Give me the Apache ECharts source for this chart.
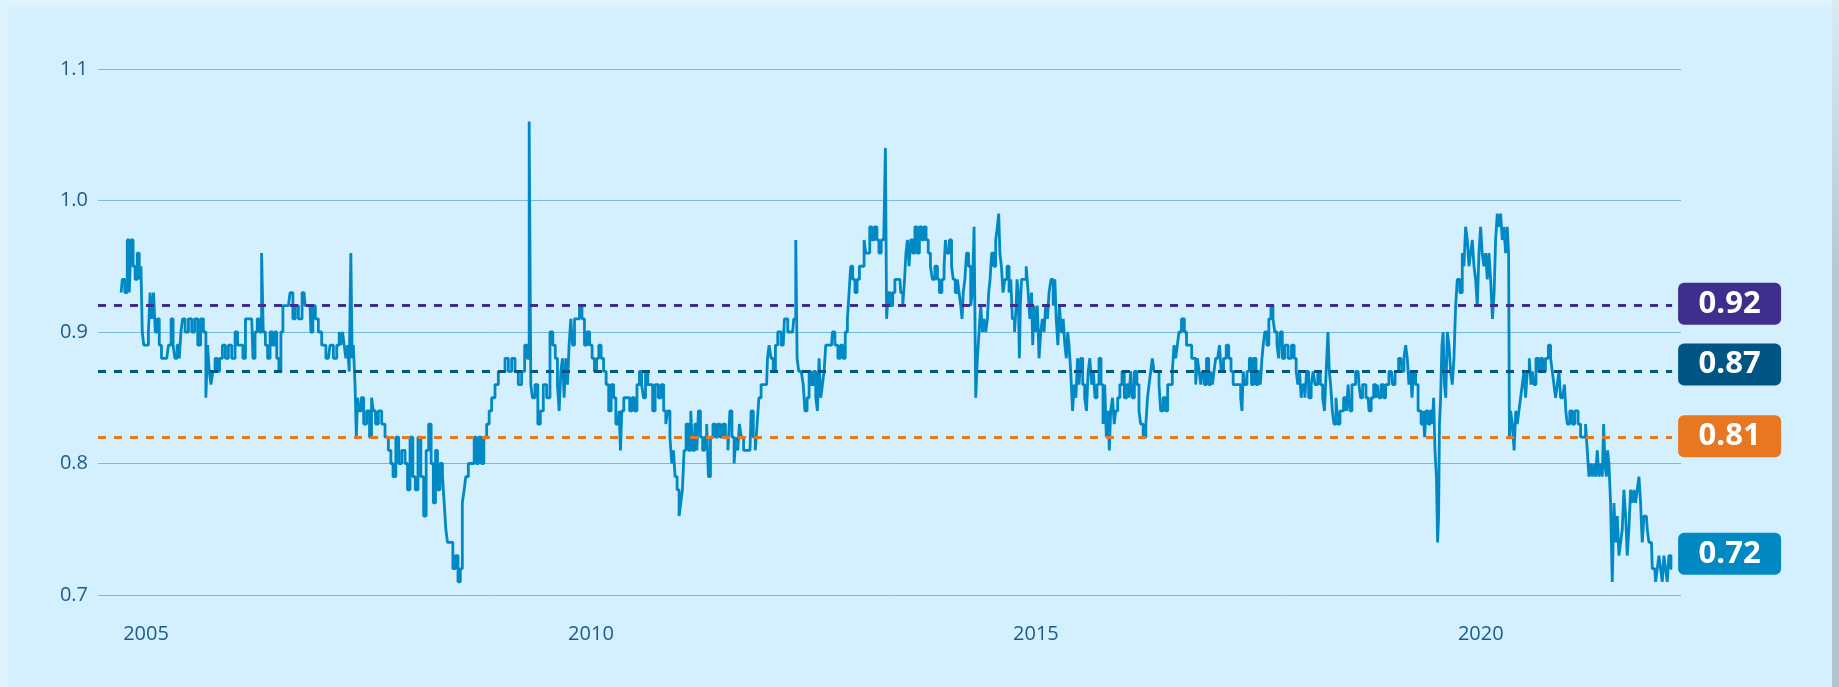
<!DOCTYPE html>
<html>
<head>
<meta charset="utf-8">
<script src="https://cdn.jsdelivr.net/npm/echarts@6/dist/echarts.min.js"></script>
<style>
html,body{margin:0;padding:0;background:#dff3fd;}
#panel{position:absolute;left:8px;top:7px;width:1824px;height:680px;background:#d4effd;}
#edge{position:absolute;left:1832px;top:0;width:7px;height:687px;background:linear-gradient(#d8ebf3,#b3c9d3 40%,#aec4ce);}
#chart{position:absolute;left:0;top:0;width:1839px;height:687px;}
</style>
</head>
<body>
<div id="panel"></div>
<div id="edge"></div>
<div id="chart"></div>
<script>
// ---- data ----
const xTickYears = [2005, 2010, 2015, 2020];
const yTicks = [0.7, 0.8, 0.9, 1.0, 1.1];

const times = [
2004.72,2004.746,2004.776,2004.802,2004.821,2004.843,2004.866,2004.888,2004.914,2004.933,2004.952,2004.963,2004.986,2005.015,2005.038,2005.053,2005.075,2005.094,2005.113,2005.139,2005.158,2005.188,2005.233,2005.27,2005.293,2005.315,2005.334,2005.364,2005.383,2005.401,2005.42,2005.457,2005.495,2005.532,2005.562,2005.6,2005.626,2005.663,2005.682,2005.701,2005.72,2005.738,2005.764,2005.787,2005.813,2005.839,2005.877,2005.907,2005.944,2005.982,2006.019,2006.038,2006.075,2006.102,2006.132,2006.188,2006.214,2006.236,2006.263,2006.289,2006.308,2006.326,2006.356,2006.375,2006.413,2006.431,2006.458,2006.48,2006.506,2006.525,2006.551,2006.6,2006.637,2006.663,2006.693,2006.731,2006.776,2006.798,2006.843,2006.862,2006.888,2006.918,2006.955,2006.993,2007.049,2007.087,2007.124,2007.162,
2007.18,2007.199,2007.217,2007.236,2007.255,2007.274,2007.292,2007.311,2007.322,2007.337,2007.36,2007.367,2007.386,2007.405,2007.431,2007.461,2007.498,2007.525,2007.543,2007.566,2007.592,2007.629,2007.667,2007.704,2007.742,2007.761,2007.79,2007.824,2007.854,2007.892,2007.929,2007.948,2007.985,2008.011,2008.041,2008.071,2008.105,2008.135,2008.161,2008.191,2008.217,2008.24,2008.266,2008.285,2008.322,2008.341,2008.36,2008.378,2008.397,2008.435,2008.461,2008.491,2008.521,2008.543,2008.566,2008.584,2008.603,2008.641,2008.678,2008.697,2008.723,2008.753,2008.783,2008.809,2008.847,2008.865,2008.903,2008.94,2008.978,2009.015,2009.053,2009.09,2009.128,2009.165,2009.202,2009.24,2009.27,2009.296,2009.315,2009.333,2009.352,2009.39,2009.416,2009.446,2009.483,2009.521,2009.558,2009.584,2009.614,2009.633,2009.652,2009.671,2009.689,2009.708,
2009.727,2009.745,2009.764,2009.783,2009.802,2009.828,2009.858,2009.884,2009.914,2009.94,2009.97,2010.0,2010.026,2010.052,2010.075,2010.101,2010.127,2010.157,2010.184,2010.214,2010.24,2010.27,2010.289,2010.307,2010.326,2010.337,2010.356,2010.382,2010.42,2010.45,2010.476,2010.502,2010.532,2010.558,2010.581,2010.6,2010.626,2010.652,2010.682,2010.704,2010.738,2010.775,2010.802,2010.832,2010.85,2010.876,2010.899,2010.918,2010.936,2010.955,2010.981,2011.0,2011.019,2011.037,2011.056,2011.082,2011.112,2011.131,2011.154,2011.18,2011.199,2011.217,2011.244,2011.266,2011.289,2011.311,2011.33,2011.356,2011.386,2011.412,2011.438,2011.468,2011.498,2011.524,2011.554,2011.569,2011.599,2011.618,2011.64,2011.659,2011.678,2011.7,2011.73,2011.787,2011.813,2011.835,2011.858,2011.876,2011.899,2011.925,2011.974,2011.993,2012.011,2012.037,2012.06,2012.086,2012.112,2012.161,2012.187,2012.236,
2012.266,2012.292,2012.311,2012.322,2012.348,2012.378,2012.393,2012.416,2012.442,2012.461,2012.487,2012.517,2012.536,2012.554,2012.573,2012.592,2012.611,2012.629,2012.648,2012.704,2012.723,2012.76,2012.79,2012.817,2012.843,2012.873,2012.891,2012.91,2012.929,2012.955,2012.978,2013.004,2013.03,2013.06,2013.079,2013.097,2013.124,2013.142,2013.172,2013.202,2013.225,2013.247,2013.277,2013.303,2013.315,2013.33,2013.352,2013.378,2013.404,2013.427,2013.472,2013.491,2013.517,2013.532,2013.547,2013.566,2013.584,2013.603,2013.629,2013.652,2013.678,2013.704,2013.734,2013.753,2013.779,2013.802,2013.828,2013.846,2013.884,2013.903,2013.929,2013.959,2013.978,2013.989,2014.015,2014.041,2014.064,2014.079,2014.109,2014.127,2014.146,2014.165,2014.176,2014.191,2014.213,2014.229,2014.258,2014.277,2014.296,2014.315,2014.333,2014.352,2014.371,2014.39,2014.408,2014.427,2014.446,2014.464,2014.476,2014.494,2014.513,2014.539,2014.558,2014.577,2014.588,2014.603,2014.622,2014.64,2014.663,2014.689,2014.708,2014.727,2014.745,2014.775,
2014.783,2014.794,2014.809,2014.82,2014.831,2014.846,2014.876,2014.906,2014.921,2014.944,2014.959,2014.97,2014.989,2015.007,2015.026,2015.045,2015.064,2015.082,2015.101,2015.12,2015.139,2015.157,2015.183,2015.206,2015.221,2015.236,2015.258,2015.273,2015.296,2015.318,2015.333,2015.352,2015.363,2015.382,2015.401,2015.423,2015.438,2015.461,2015.476,2015.494,2015.513,2015.539,2015.558,2015.58,2015.595,2015.618,2015.637,2015.655,2015.674,2015.7,2015.719,2015.745,2015.764,2015.783,2015.801,2015.82,2015.831,2015.85,2015.873,2015.888,2015.906,2015.933,2015.955,2015.981,2016.007,2016.037,2016.056,2016.075,2016.094,2016.12,2016.15,2016.168,2016.187,2016.225,2016.247,2016.262,2016.281,2016.3,2016.318,2016.337,2016.375,2016.393,2016.412,2016.449,2016.468,2016.494,2016.524,2016.543,2016.562,2016.58,2016.599,2016.618,2016.655,2016.682,2016.704,2016.742,2016.76,2016.787,2016.805,2016.824,2016.846,2016.861,2016.88,2016.906,2016.929,2016.955,2016.974,2016.993,2017.011,2017.03,2017.056,2017.071,2017.094,2017.124,2017.154,2017.18,2017.206,2017.228,2017.255,2017.292,
2017.311,2017.322,2017.337,2017.359,2017.386,2017.412,2017.434,2017.461,2017.487,2017.509,2017.535,2017.547,2017.562,2017.584,2017.607,2017.629,2017.655,2017.674,2017.696,2017.723,2017.734,2017.76,2017.779,2017.816,2017.854,2017.891,2017.914,2017.936,2017.951,2017.974,2017.989,2018.011,2018.034,2018.052,2018.079,2018.109,2018.123,2018.153,2018.183,2018.21,2018.236,2018.251,2018.273,2018.292,2018.303,2018.322,2018.341,2018.359,2018.386,2018.401,2018.434,2018.483,2018.498,2018.52,2018.539,2018.565,2018.622,2018.64,2018.659,2018.685,2018.734,2018.753,2018.783,2018.809,2018.828,2018.846,2018.865,2018.895,2018.921,2018.94,2018.996,2019.022,2019.052,2019.101,2019.127,2019.146,2019.165,2019.183,2019.202,2019.221,2019.232,2019.258,2019.277,2019.314,2019.344,2019.363,2019.374,2019.397,2019.419,2019.446,2019.464,2019.476,2019.494,2019.509,2019.52,2019.532,2019.539,2019.558,2019.569,2019.584,2019.599,2019.614,2019.633,2019.652,2019.67,2019.689,2019.708,2019.727,2019.745,
2019.783,2019.801,2019.82,2019.839,2019.858,2019.876,2019.895,2019.914,2019.933,2019.951,2019.97,2019.989,2020.007,2020.026,2020.045,2020.064,2020.082,2020.101,2020.12,2020.142,2020.157,2020.176,2020.195,2020.213,2020.232,2020.251,2020.27,2020.288,2020.307,2020.318,2020.326,2020.345,2020.363,2020.386,2020.401,2020.419,2020.438,2020.457,2020.476,2020.494,2020.513,2020.532,2020.558,2020.569,2020.588,2020.607,2020.633,2020.663,2020.682,2020.708,2020.745,2020.775,2020.794,2020.813,2020.831,2020.85,2020.869,2020.888,2020.906,2020.933,2020.948,2020.963,2020.981,2021.019,2021.037,2021.075,2021.112,2021.131,2021.168,2021.187,2021.206,2021.225,2021.243,2021.262,2021.281,2021.3,2021.318,2021.337,2021.356,2021.375,2021.386,2021.404,2021.419,2021.431,2021.449,2021.468,2021.487,2021.506,2021.524,2021.543,2021.562,2021.581,2021.599,2021.618,2021.637,2021.655,2021.674,2021.693,2021.712,2021.73,2021.749,2021.768,2021.787,2021.805,2021.824,2021.843,2021.861,2021.88,2021.899,2021.918,2021.936,2021.955,2021.974,2021.993,2022.011,2022.03,2022.049,2022.067,2022.086,2022.105,2022.124,2022.15
];

const values = [
0.93,0.94,0.93,0.97,0.93,0.97,0.95,0.94,0.96,0.94,0.95,0.90,0.89,0.89,0.90,0.93,0.91,0.93,0.90,0.91,0.89,0.88,0.88,0.89,0.91,0.89,0.88,0.89,0.88,0.90,0.91,0.90,0.91,0.90,0.91,0.89,0.91,0.90,0.85,0.89,0.87,0.86,0.87,0.88,0.87,0.88,0.89,0.88,0.89,0.88,0.90,0.89,0.89,0.88,0.91,0.91,0.88,0.90,0.91,0.90,0.96,0.90,0.89,0.88,0.90,0.89,0.90,0.88,0.87,0.90,0.92,0.92,0.93,0.91,0.92,0.91,0.93,0.92,0.92,0.90,0.92,0.91,0.90,0.89,0.88,0.89,0.88,0.89,
0.90,0.89,0.90,0.89,0.88,0.89,0.87,0.96,0.88,0.89,0.86,0.82,0.85,0.84,0.85,0.83,0.84,0.82,0.85,0.84,0.83,0.84,0.83,0.82,0.81,0.80,0.79,0.82,0.80,0.81,0.80,0.78,0.82,0.79,0.78,0.82,0.79,0.76,0.81,0.83,0.80,0.77,0.81,0.78,0.80,0.79,0.77,0.75,0.74,0.74,0.72,0.73,0.71,0.72,0.77,0.78,0.79,0.80,0.80,0.82,0.80,0.82,0.80,0.82,0.83,0.84,0.85,0.86,0.87,0.87,0.88,0.87,0.88,0.87,0.86,0.87,0.89,0.88,1.06,0.86,0.85,0.86,0.83,0.84,0.86,0.85,0.90,0.89,0.88,0.86,0.84,0.87,0.88,0.85,
0.88,0.86,0.89,0.91,0.89,0.91,0.91,0.92,0.91,0.89,0.90,0.89,0.88,0.87,0.88,0.89,0.88,0.87,0.86,0.84,0.86,0.85,0.83,0.83,0.84,0.81,0.84,0.85,0.85,0.84,0.85,0.84,0.86,0.87,0.86,0.85,0.87,0.86,0.86,0.84,0.86,0.85,0.86,0.84,0.83,0.84,0.82,0.80,0.81,0.79,0.78,0.76,0.77,0.78,0.81,0.83,0.81,0.84,0.81,0.83,0.81,0.84,0.82,0.81,0.82,0.83,0.79,0.82,0.83,0.82,0.83,0.82,0.83,0.82,0.81,0.84,0.82,0.80,0.82,0.81,0.83,0.82,0.81,0.81,0.84,0.82,0.81,0.83,0.85,0.86,0.86,0.88,0.89,0.88,0.87,0.89,0.90,0.89,0.91,0.90,
0.90,0.91,0.97,0.88,0.87,0.87,0.86,0.84,0.85,0.87,0.86,0.87,0.85,0.84,0.88,0.85,0.86,0.87,0.89,0.89,0.90,0.89,0.88,0.89,0.88,0.90,0.91,0.93,0.95,0.94,0.93,0.94,0.95,0.95,0.97,0.96,0.96,0.98,0.97,0.98,0.97,0.96,0.97,0.97,1.04,0.91,0.93,0.92,0.93,0.94,0.94,0.93,0.92,0.94,0.96,0.97,0.95,0.97,0.96,0.98,0.96,0.98,0.97,0.98,0.97,0.96,0.95,0.94,0.95,0.94,0.93,0.94,0.95,0.97,0.96,0.97,0.95,0.94,0.93,0.94,0.93,0.92,0.91,0.93,0.94,0.96,0.95,0.92,0.93,0.98,0.85,0.88,0.90,0.92,0.90,0.91,0.90,0.91,0.93,0.94,0.96,0.95,0.97,0.98,0.99,0.96,0.95,0.93,0.94,0.95,0.93,0.94,0.91,0.90,
0.92,0.94,0.93,0.88,0.92,0.94,0.94,0.95,0.93,0.91,0.93,0.89,0.92,0.90,0.92,0.88,0.90,0.91,0.90,0.92,0.91,0.93,0.94,0.92,0.94,0.91,0.89,0.92,0.90,0.91,0.89,0.88,0.90,0.89,0.87,0.84,0.86,0.85,0.88,0.86,0.88,0.86,0.85,0.84,0.87,0.88,0.86,0.87,0.85,0.86,0.88,0.86,0.83,0.86,0.82,0.84,0.81,0.84,0.85,0.83,0.84,0.85,0.86,0.87,0.85,0.86,0.85,0.87,0.85,0.87,0.86,0.84,0.83,0.82,0.83,0.85,0.86,0.87,0.88,0.87,0.87,0.86,0.84,0.85,0.84,0.86,0.86,0.87,0.89,0.88,0.89,0.90,0.91,0.90,0.89,0.89,0.88,0.88,0.86,0.88,0.87,0.86,0.87,0.86,0.88,0.86,0.87,0.86,0.87,0.88,0.88,0.89,0.87,0.88,0.89,0.88,0.87,0.86,0.86,0.86,
0.85,0.84,0.87,0.86,0.87,0.88,0.86,0.88,0.86,0.87,0.86,0.88,0.89,0.90,0.89,0.91,0.92,0.91,0.90,0.89,0.88,0.90,0.88,0.89,0.88,0.89,0.88,0.87,0.86,0.87,0.85,0.86,0.85,0.87,0.85,0.86,0.87,0.86,0.87,0.86,0.85,0.84,0.87,0.90,0.87,0.86,0.84,0.83,0.85,0.83,0.84,0.85,0.84,0.86,0.84,0.86,0.87,0.86,0.85,0.86,0.85,0.84,0.85,0.86,0.85,0.86,0.85,0.86,0.85,0.86,0.87,0.86,0.87,0.88,0.87,0.88,0.89,0.88,0.86,0.87,0.85,0.87,0.86,0.84,0.83,0.84,0.82,0.84,0.83,0.84,0.83,0.85,0.81,0.79,0.74,0.76,0.83,0.85,0.89,0.90,0.86,0.85,0.90,0.89,0.87,0.86,0.88,0.92,0.94,
0.93,0.96,0.95,0.98,0.97,0.95,0.96,0.97,0.95,0.94,0.92,0.96,0.98,0.96,0.95,0.96,0.94,0.96,0.94,0.91,0.93,0.97,0.99,0.98,0.99,0.97,0.98,0.96,0.98,0.96,0.82,0.84,0.83,0.81,0.84,0.83,0.84,0.85,0.86,0.87,0.85,0.87,0.88,0.86,0.87,0.86,0.88,0.87,0.88,0.87,0.88,0.89,0.88,0.87,0.86,0.85,0.86,0.87,0.85,0.85,0.86,0.84,0.83,0.84,0.83,0.84,0.83,0.82,0.82,0.83,0.81,0.79,0.80,0.79,0.80,0.79,0.81,0.79,0.80,0.79,0.83,0.80,0.79,0.81,0.80,0.77,0.71,0.77,0.74,0.76,0.73,0.74,0.75,0.78,0.76,0.73,0.75,0.78,0.77,0.78,0.77,0.78,0.79,0.77,0.74,0.76,0.76,0.75,0.74,0.74,0.72,0.72,0.71,0.72,0.73,0.72,0.71,0.73,0.72,0.71,0.73,0.72
];

const refValues = [0.92, 0.87, 0.82, 0.72];
const refLabels = ['0.92', '0.87', '0.81', '0.72'];
const refColors = ['#3e2f8f', '#005585', '#e87722', '#0089c2'];
const refShowLine = [true, true, true, false];
const refLabelShift = [-2, -7, -1, -15];

const X_MIN = 2004.46, X_MAX = 2022.25;

// ---- chart ----
const seriesData = times.map((t, i) => [t, values[i]]);
const lastT = times[times.length - 1];

const markLineData = refValues.map((v, i) => [
  { coord: [X_MIN, v], lineStyle: { color: refShowLine[i] ? refColors[i] : 'rgba(0,0,0,0)', width: 3, type: [8, 8] } },
  { coord: [lastT, v],
    label: {
      show: true, position: 'end', distance: 6, offset: [0, refLabelShift[i]],
      formatter: '{b|' + refLabels[i] + '}',
      backgroundColor: refColors[i], borderRadius: 6, padding: [0, 12],
      rich: { b: { width: 79, height: 42, lineHeight: 42, align: 'center', color: '#ffffff',
                   fontSize: 31, fontWeight: 'bold', fontFamily: 'Open Sans' } }
    } }
]);

const chart = echarts.init(document.getElementById('chart'), null, { renderer: 'canvas' });
chart.setOption({
  backgroundColor: 'transparent',
  animation: false,
  grid: { left: 98, right: 158, top: 69, bottom: 92 },
  xAxis: {
    type: 'value', min: X_MIN, max: X_MAX,
    axisLine: { show: false }, axisTick: { show: false }, splitLine: { show: false },
    axisLabel: { customValues: xTickYears, margin: 29, color: '#1b5c8d', fontSize: 20, fontFamily: 'Open Sans',
                 formatter: v => String(Math.round(v)) }
  },
  yAxis: {
    type: 'value', min: 0.7, max: 1.1, interval: 0.1,
    axisLine: { show: false }, axisTick: { show: false },
    axisLabel: { customValues: yTicks, margin: 10, color: '#1b5c8d', fontSize: 20, fontFamily: 'Open Sans',
                 formatter: v => v.toFixed(1) },
    splitLine: { lineStyle: { color: '#74bae8', width: 1 } }
  },
  series: [{
    type: 'line', data: seriesData, step: 'middle', symbol: 'none',
    lineStyle: { color: '#0089c4', width: 2.8 },
    markLine: { silent: true, symbol: 'none', data: markLineData, animation: false }
  }]
});
</script>
</body>
</html>
